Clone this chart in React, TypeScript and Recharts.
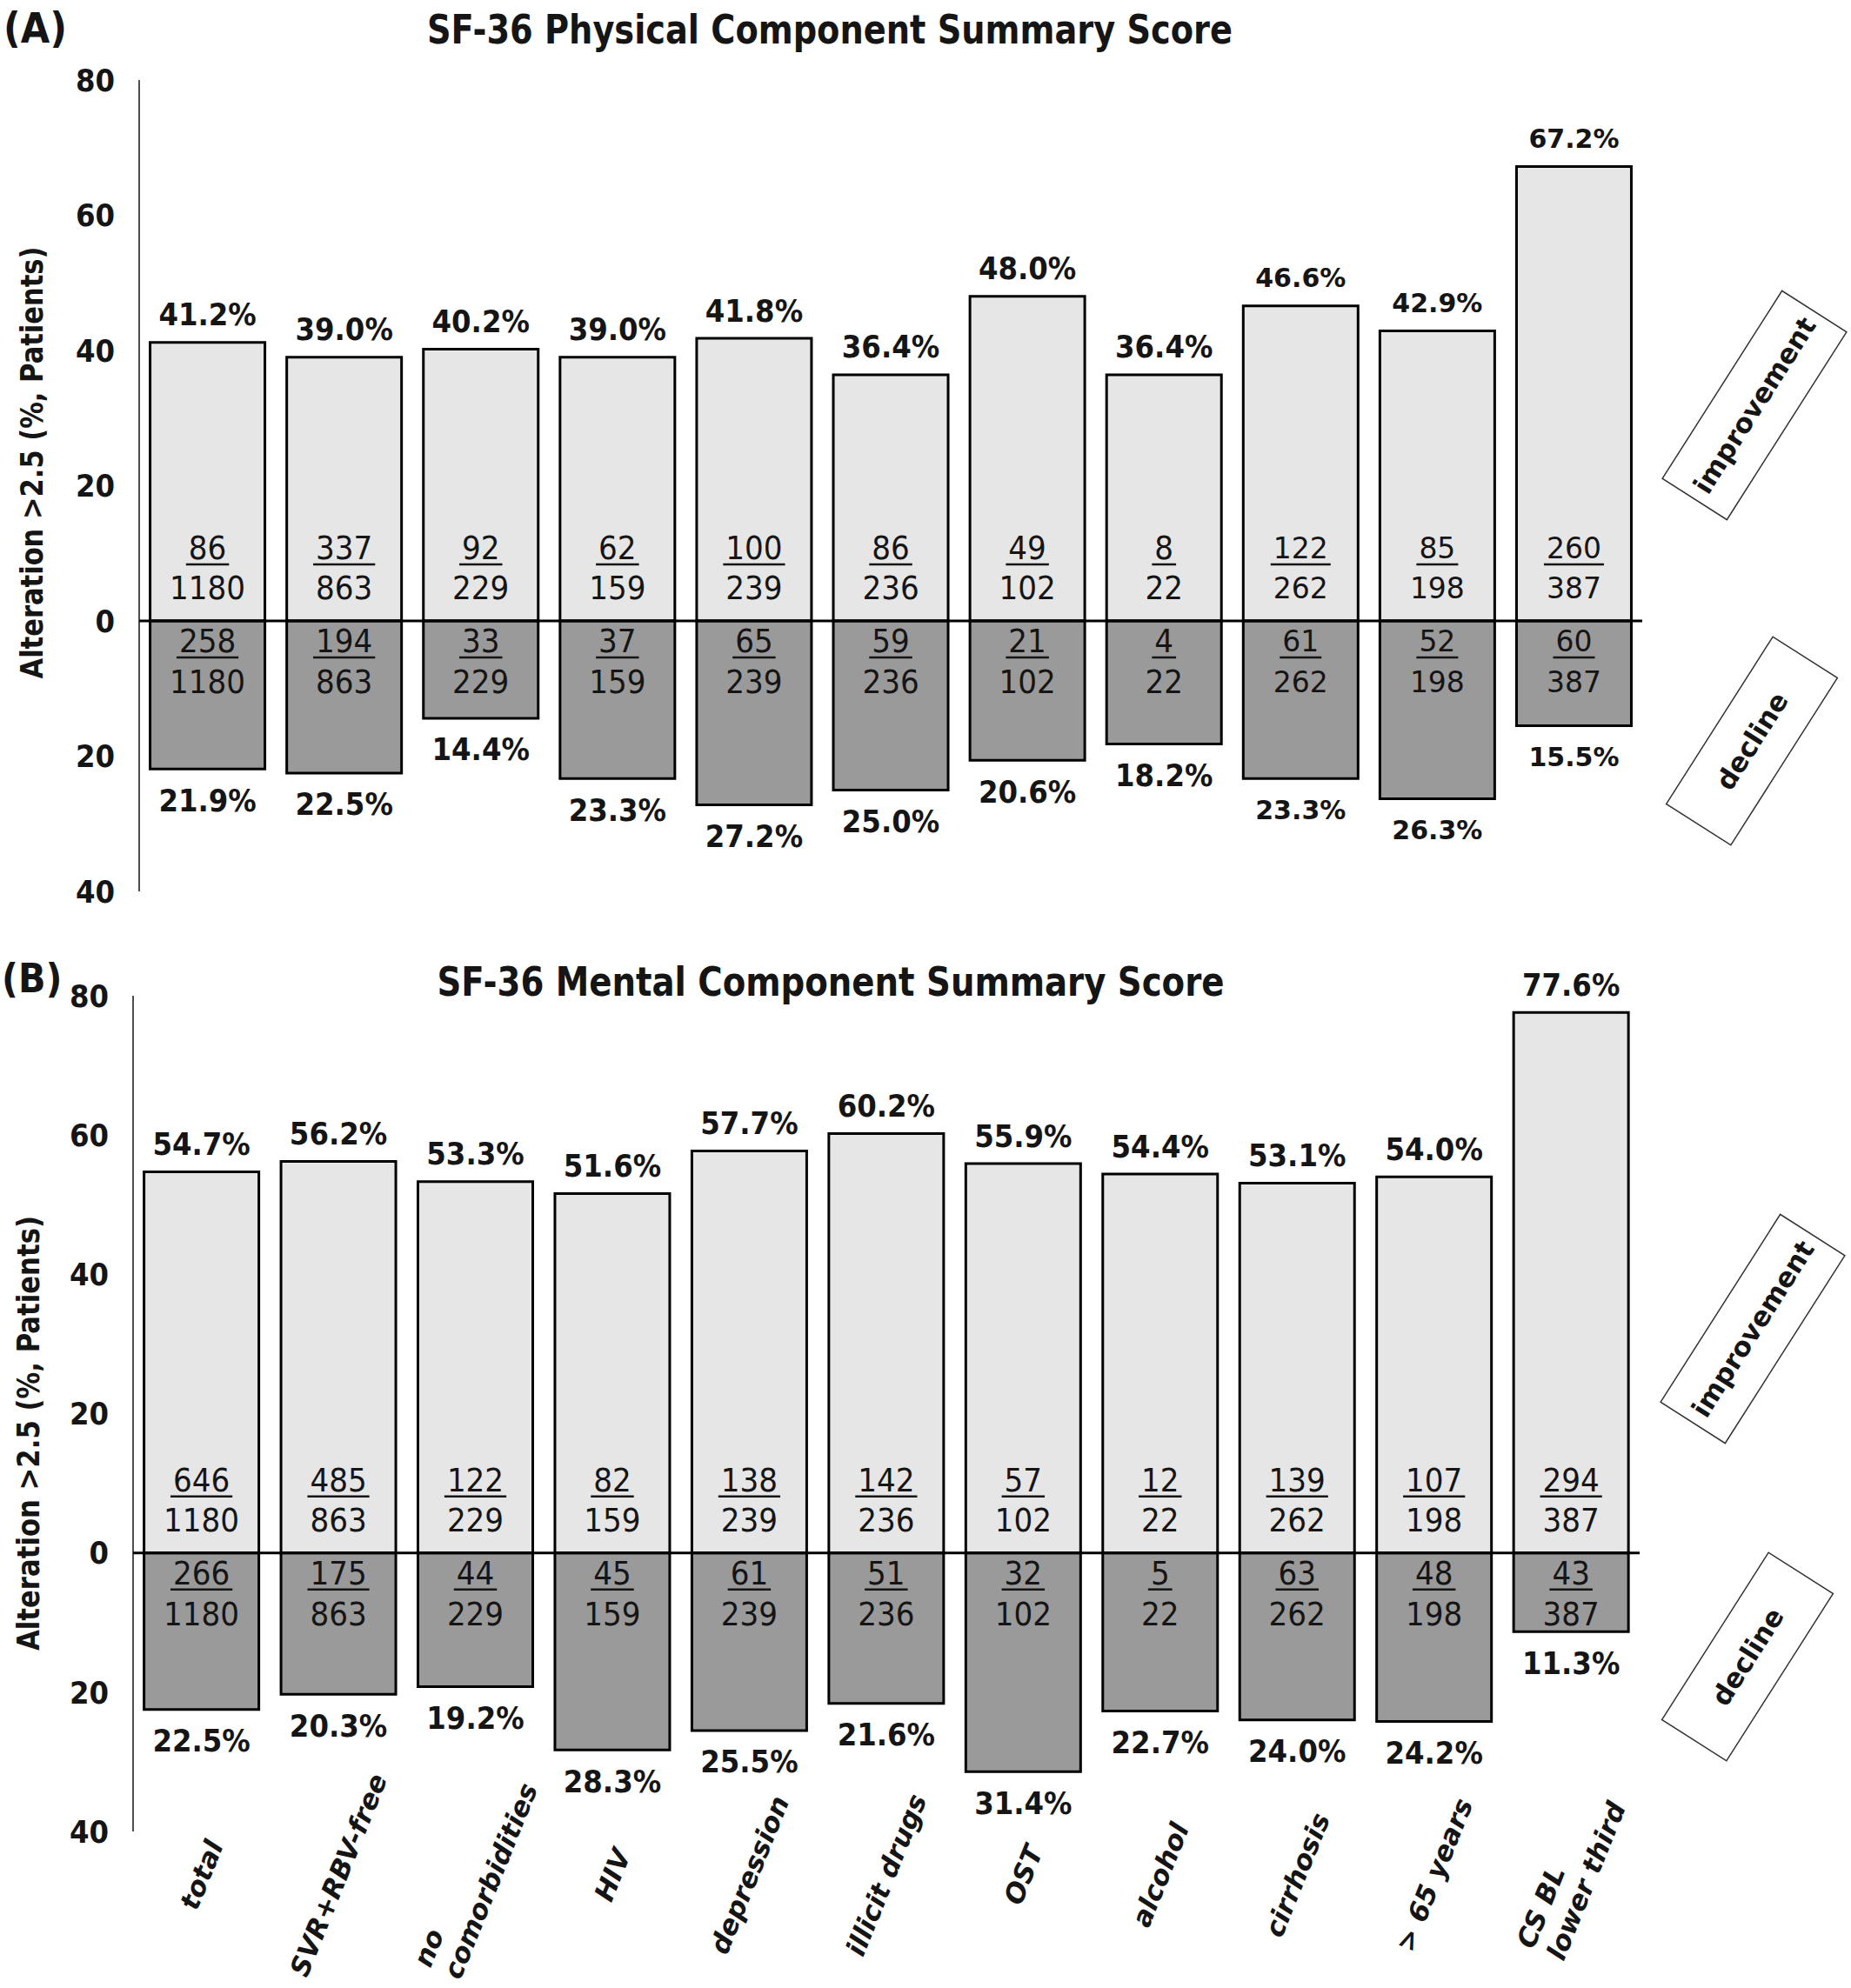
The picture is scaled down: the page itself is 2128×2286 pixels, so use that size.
import React from 'react';
import { BarChart, Bar, XAxis, YAxis, ReferenceLine, LabelList } from 'recharts';

// categories (x axis of the lower panel, shared by both panels)
const categories = [
  'total',
  'SVR+RBV-free',
  'no\ncomorbidities',
  'HIV',
  'depression',
  'illicit drugs',
  'OST',
  'alcohol',
  'cirrhosis',
  '> 65 years',
  'CS BL\nlower third',
];
const groupTotals = [1180, 863, 229, 159, 239, 236, 102, 22, 262, 198, 387];

// (A) physical component summary
const physImprove = [41.2, 39.0, 40.2, 39.0, 41.8, 36.4, 48.0, 36.4, 46.6, 42.9, 67.2];
const physDecline = [21.9, 22.5, 14.4, 23.3, 27.2, 25.0, 20.6, 18.2, 23.3, 26.3, 15.5];
const physImproveN = [86, 337, 92, 62, 100, 86, 49, 8, 122, 85, 260];
const physDeclineN = [258, 194, 33, 37, 65, 59, 21, 4, 61, 52, 60];

// (B) mental component summary
const mentImprove = [54.7, 56.2, 53.3, 51.6, 57.7, 60.2, 55.9, 54.4, 53.1, 54.0, 77.6];
const mentDecline = [22.5, 20.3, 19.2, 28.3, 25.5, 21.6, 31.4, 22.7, 24.0, 24.2, 11.3];
const mentImproveN = [646, 485, 122, 82, 138, 142, 57, 12, 139, 107, 294];
const mentDeclineN = [266, 175, 44, 45, 61, 51, 32, 5, 63, 48, 43];

const yTicks = [-40, -20, 0, 20, 40, 60, 80];

const NARROW = '"Liberation Sans Narrow", "DejaVu Sans Condensed", "Open Sans", sans-serif';
const WIDE = '"DejaVu Sans", Verdana, sans-serif';
const INK = '#151515';
const LIGHT = '#e6e6e6';
const DARK = '#9a9a9a';

type Row = {
  name: string;
  improve: number;
  decline: number;
  improveN: number;
  declineN: number;
  total: number;
};

function buildRows(imp: number[], dec: number[], impN: number[], decN: number[]): Row[] {
  return categories.map((name, i) => ({
    name,
    improve: imp[i],
    decline: -dec[i],
    improveN: impN[i],
    declineN: decN[i],
    total: groupTotals[i],
  }));
}

const physRows = buildRows(physImprove, physDecline, physImproveN, physDeclineN);
const mentRows = buildRows(mentImprove, mentDecline, mentImproveN, mentDeclineN);

let ctx: CanvasRenderingContext2D | null = null;
function measure(t: string, font: string) {
  if (!ctx) ctx = document.createElement('canvas').getContext('2d');
  if (!ctx) return t.length * 18;
  ctx.font = font;
  return ctx.measureText(t).width;
}

function makePctLabel(rows: Row[], side: 'up' | 'down', wideFrom: number) {
  return (p: any) => {
    const { x, y, width, height, index } = p;
    const top = Math.min(y, y + height);
    const bottom = Math.max(y, y + height);
    const wide = index >= wideFrom;
    const v = side === 'up' ? rows[index].improve : -rows[index].decline;
    const cy = side === 'up' ? top - 32 : bottom + 36;
    return (
      <text
        x={x + width / 2}
        y={cy}
        textAnchor="middle"
        dominantBaseline="central"
        fontFamily={wide ? WIDE : NARROW}
        fontWeight={700}
        fontSize={wide ? 30 : 36}
        fill={INK}
      >
        {v.toFixed(1)}%
      </text>
    );
  };
}

function makeFracLabel(rows: Row[], side: 'up' | 'down', wideFrom: number) {
  return (p: any) => {
    const { x, y, width, height, index } = p;
    const zero = side === 'up' ? Math.max(y, y + height) : Math.min(y, y + height);
    const row = rows[index];
    const num = side === 'up' ? row.improveN : row.declineN;
    const wide = index >= wideFrom;
    const fs = wide ? 33 : 38;
    const family = wide ? WIDE : NARROW;
    const cx = x + width / 2;
    const ny = side === 'up' ? zero - 84 : zero + 23;
    const dy = side === 'up' ? zero - 38 : zero + 70;
    const w = measure(String(num), `${fs}px ${family}`) + 6;
    return (
      <g>
        <text x={cx} y={ny} textAnchor="middle" dominantBaseline="central" fontFamily={family} fontSize={fs} fill={INK}>
          {num}
        </text>
        <line x1={cx - w / 2} x2={cx + w / 2} y1={ny + 19} y2={ny + 19} stroke={INK} strokeWidth={2.5} />
        <text x={cx} y={dy} textAnchor="middle" dominantBaseline="central" fontFamily={family} fontSize={fs} fill={INK}>
          {row.total}
        </text>
      </g>
    );
  };
}

function CategoryTick({ x, y, payload }: any) {
  const lines = String(payload.value).split('\n');
  const fs = 31;
  const lh = 37;
  const font = `italic 700 ${fs}px "DejaVu Sans"`;
  const w = Math.max(...lines.map((l) => measure(l, font)));
  const cy = y + 50;
  return (
    <g transform={`translate(${x},${cy}) rotate(-68)`}>
      <text fontFamily={WIDE} fontStyle="italic" fontWeight={700} fontSize={fs} fill={INK} textAnchor="start">
        {lines.map((l, i) => (
          <tspan key={i} x={-w / 2} dy={i === 0 ? (-(lines.length - 1) * lh) / 2 + fs * 0.35 : lh}>
            {l}
          </tspan>
        ))}
      </text>
    </g>
  );
}

function Panel({
  rows,
  top,
  height,
  margin,
  showX,
  wideFrom,
}: {
  rows: Row[];
  top: number;
  height: number;
  margin: { top: number; right: number; bottom: number; left: number };
  showX: boolean;
  wideFrom: number;
}) {
  return (
    <div style={{ position: 'absolute', left: 0, top }}>
      <BarChart width={2128} height={height} data={rows} margin={margin} stackOffset="sign" barCategoryGap="8%">
        <XAxis
          dataKey="name"
          hide={!showX}
          axisLine={false}
          tickLine={false}
          tickSize={0}
          tickMargin={0}
          interval={0}
          height={showX ? 180 : 0}
          tick={<CategoryTick />}
        />
        <YAxis
          width={60}
          domain={[-40, 80]}
          ticks={yTicks}
          interval={0}
          axisLine={{ stroke: INK, strokeWidth: 1.5 }}
          tickLine={false}
          tickSize={0}
          tickMargin={28}
          tickFormatter={(v: number) => String(Math.abs(v))}
          tick={{ fill: INK, fontSize: 36, fontWeight: 700, fontFamily: NARROW }}
        />
        <Bar dataKey="improve" stackId="s" fill={LIGHT} stroke="#000" strokeWidth={3} isAnimationActive={false}>
          <LabelList dataKey="improve" content={makePctLabel(rows, 'up', wideFrom)} />
          <LabelList dataKey="improve" content={makeFracLabel(rows, 'up', wideFrom)} />
        </Bar>
        <Bar dataKey="decline" stackId="s" fill={DARK} stroke="#000" strokeWidth={3} isAnimationActive={false}>
          <LabelList dataKey="decline" content={makePctLabel(rows, 'down', wideFrom)} />
          <LabelList dataKey="decline" content={makeFracLabel(rows, 'down', wideFrom)} />
        </Bar>
        <ReferenceLine y={0} stroke="#000" strokeWidth={3} />
      </BarChart>
    </div>
  );
}

function TagBox({ cx, cy, len, label }: { cx: number; cy: number; len: number; label: string }) {
  return (
    <g transform={`translate(${cx},${cy}) rotate(-57.5)`}>
      <rect x={-len / 2} y={-44} width={len} height={88} fill="#fff" stroke="#333" strokeWidth={1.5} />
      <text textAnchor="middle" dominantBaseline="central" fontFamily={WIDE} fontWeight={700} fontSize={31} fill={INK}>
        {label}
      </text>
    </g>
  );
}

function Overlay() {
  const yLabel = 'Alteration >2.5 (%, Patients)';
  return (
    <svg width={2128} height={2286} style={{ position: 'absolute', left: 0, top: 0, pointerEvents: 'none' }}>
      <text x={4} y={32} dominantBaseline="central" fontFamily={NARROW} fontWeight={700} fontSize={48} fill={INK}>
        (A)
      </text>
      <text x={954} y={34} textAnchor="middle" dominantBaseline="central" fontFamily={NARROW} fontWeight={700} fontSize={46} fill={INK} textLength={926} lengthAdjust="spacingAndGlyphs">
        SF-36 Physical Component Summary Score
      </text>
      <text transform="translate(36,532) rotate(-90)" textAnchor="middle" dominantBaseline="central" fontFamily={WIDE} fontWeight={700} fontSize={36} fill={INK} textLength={497} lengthAdjust="spacingAndGlyphs">
        {yLabel}
      </text>
      <TagBox cx={2017} cy={466} len={256} label="improvement" />
      <TagBox cx={2014} cy={852} len={228} label="decline" />

      <text x={2} y={1125} dominantBaseline="central" fontFamily={NARROW} fontWeight={700} fontSize={46} fill={INK}>
        (B)
      </text>
      <text x={955} y={1129} textAnchor="middle" dominantBaseline="central" fontFamily={NARROW} fontWeight={700} fontSize={46} fill={INK} textLength={905} lengthAdjust="spacingAndGlyphs">
        SF-36 Mental Component Summary Score
      </text>
      <text transform="translate(32,1648) rotate(-90)" textAnchor="middle" dominantBaseline="central" fontFamily={WIDE} fontWeight={700} fontSize={36} fill={INK} textLength={500} lengthAdjust="spacingAndGlyphs">
        {yLabel}
      </text>
      <TagBox cx={2015} cy={1528} len={256} label="improvement" />
      <TagBox cx={2009} cy={1905} len={228} label="decline" />
    </svg>
  );
}

export default function App() {
  return (
    <div style={{ position: 'absolute', left: 0, top: 0, width: 2128, height: 2286, background: '#fff' }}>
      <Panel
        rows={physRows}
        top={0}
        height={1070}
        margin={{ top: 92, right: 240, bottom: 45, left: 100 }}
        showX={false}
        wideFrom={8}
      />
      <Panel
        rows={mentRows}
        top={1080}
        height={1206}
        margin={{ top: 65, right: 243, bottom: 0, left: 93 }}
        showX={true}
        wideFrom={99}
      />
      <Overlay />
    </div>
  );
}
